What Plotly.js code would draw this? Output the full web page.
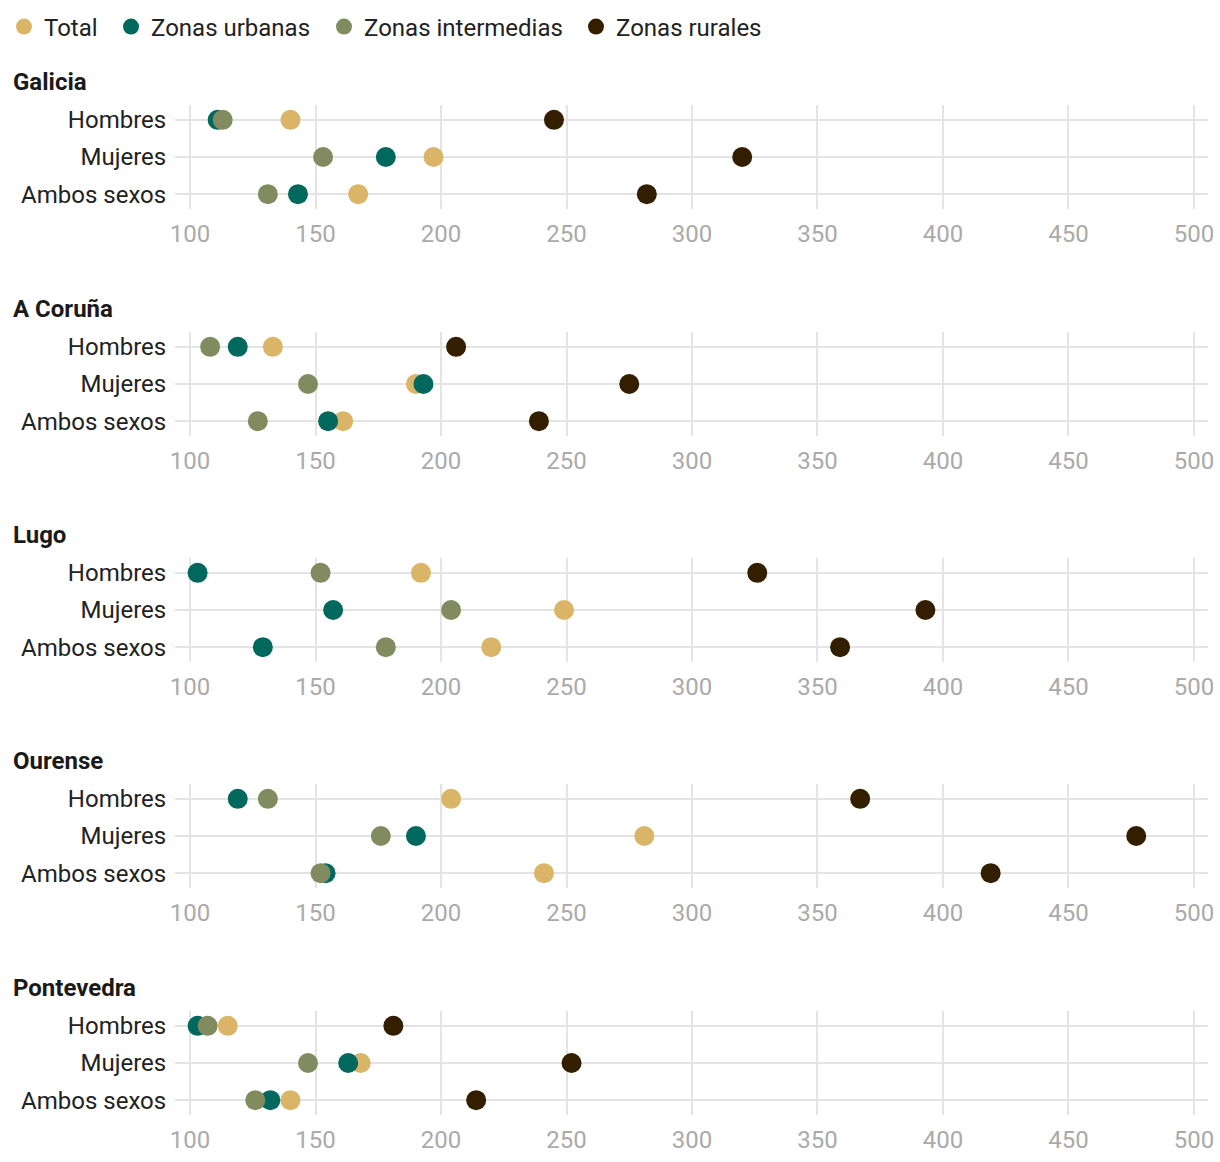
<!DOCTYPE html>
<html>
<head>
<meta charset="utf-8">
<script src="https://cdn.plot.ly/plotly-3.0.1.min.js"></script>
<style>
  html, body { margin: 0; padding: 0; background: #ffffff; }
  #chart { width: 1220px; height: 1162px; }
</style>
</head>
<body>
<div id="chart"></div>
<script>
// ---- data ----
const regions = ['Galicia', 'A Coruña', 'Lugo', 'Ourense', 'Pontevedra'];
const sexes = ['Hombres', 'Mujeres', 'Ambos sexos'];
const seriesNames = ['Total', 'Zonas urbanas', 'Zonas intermedias', 'Zonas rurales'];
// values per region, in order [Hombres, Mujeres, Ambos sexos]
const total       = [[140, 197, 167], [133, 190, 161], [192, 249, 220], [204, 281, 241], [115, 168, 140]];
const urbanas     = [[111, 178, 143], [119, 193, 155], [103, 157, 129], [119, 190, 154], [103, 163, 132]];
const intermedias = [[113, 153, 131], [108, 147, 127], [152, 204, 178], [131, 176, 152], [107, 147, 126]];
const rurales     = [[245, 320, 282], [206, 275, 239], [326, 393, 359], [367, 477, 419], [181, 252, 214]];
const xTicks = [100, 150, 200, 250, 300, 350, 400, 450, 500];

// ---- styling ----
const colors = ['#dbb567', '#00685c', '#828b60', '#331f00'];
const seriesValues = [total, urbanas, intermedias, rurales];
const W = 1220, H = 1162;
const ML = 175, MR = 12, MT = 56;
const plotW = W - ML - MR;
const plotH = H - MT;
const panelTops = [105, 332, 558, 784, 1011];
const panelH = 104;
const legendLeft = [4, 111, 324, 576];
const fy = (px) => 1 - (px - MT) / plotH;   // pixel (from top) -> paper fraction
const fx = (px) => (px - ML) / plotW;

const legendIds = ['legend', 'legend2', 'legend3', 'legend4'];

const traces = [];
seriesValues.forEach((vals, s) => {
  regions.forEach((reg, i) => {
    const ax = i === 0 ? '' : String(i + 1);
    traces.push({
      type: 'scatter',
      mode: 'markers',
      x: vals[i],
      y: sexes,
      xaxis: 'x' + ax,
      yaxis: 'y' + ax,
      name: seriesNames[s],
      legend: legendIds[s],
      legendgroup: seriesNames[s],
      showlegend: i === 0,
      marker: { color: colors[s], size: 20, line: { width: 0 } },
      hovertemplate: reg + ' · %{y}: %{x}<extra>' + seriesNames[s] + '</extra>'
    });
  });
});

const layout = {
  width: W,
  height: H,
  margin: { l: ML, r: MR, t: MT, b: 0, pad: 0 },
  paper_bgcolor: '#ffffff',
  plot_bgcolor: '#ffffff',
  font: { family: 'Roboto, "Noto Sans", sans-serif', size: 24, color: '#222222' },
  showlegend: true,
  annotations: [],
  hovermode: 'closest'
};

legendIds.forEach((id, s) => {
  layout[id] = {
    orientation: 'h',
    x: fx(legendLeft[s]),
    xanchor: 'left',
    y: fy(27),
    yanchor: 'middle',
    font: { size: 24, color: '#222222' },
    bgcolor: 'rgba(0,0,0,0)',
    itemsizing: 'trace',
    itemclick: false,
    itemdoubleclick: false
  };
});

regions.forEach((reg, i) => {
  const ax = i === 0 ? '' : String(i + 1);
  const top = panelTops[i];
  const bottom = top + panelH;
  layout['xaxis' + ax] = {
    domain: [0, 1],
    anchor: 'y' + ax,
    range: [94, 505.6],
    tickvals: xTicks,
    ticktext: xTicks.map(String),
    ticks: 'outside',
    ticklen: 3,
    tickcolor: 'rgba(0,0,0,0)',
    tickfont: { size: 24, color: '#aaaaaa' },
    showgrid: true,
    gridcolor: '#e4e4e4',
    gridwidth: 1.5,
    zeroline: false,
    showline: false,
    fixedrange: true
  };
  layout['yaxis' + ax] = {
    domain: [fy(bottom), fy(top)],
    anchor: 'x' + ax,
    type: 'category',
    categoryorder: 'array',
    categoryarray: sexes.slice().reverse(),
    range: [-0.4, 2.4],
    ticks: 'outside',
    ticklen: 3,
    tickcolor: 'rgba(0,0,0,0)',
    tickfont: { size: 24, color: '#222222' },
    showgrid: true,
    gridcolor: '#e4e4e4',
    gridwidth: 2,
    zeroline: false,
    showline: false,
    fixedrange: true
  };
  layout.annotations.push({
    text: '<b>' + reg + '</b>',
    xref: 'paper',
    yref: 'paper',
    x: fx(11),
    xanchor: 'left',
    y: fy(top - 23),
    yanchor: 'middle',
    showarrow: false,
    font: { size: 24, color: '#1a1a1a' }
  });
});

Plotly.newPlot('chart', traces, layout, { displayModeBar: false, responsive: false });
</script>
</body>
</html>
